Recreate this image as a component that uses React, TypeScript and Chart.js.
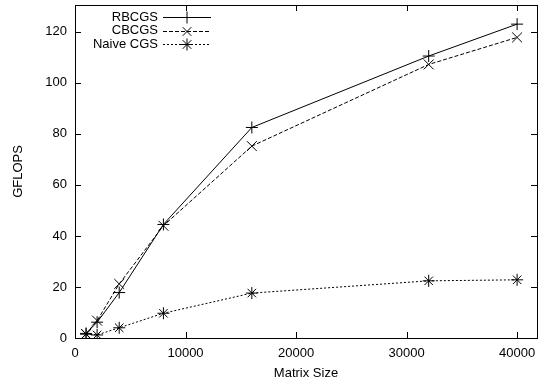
import React, { useEffect, useRef } from "react";
import { Chart, registerables } from "chart.js";

Chart.register(...registerables);

// Matrix sizes measured and the GFLOPS reached by each variant
const matrixSizes = [1000, 2000, 4000, 8000, 16000, 32000, 40000];
const rbcgs = [1.8, 6.2, 17.8, 44.5, 82.5, 110.5, 123.0];
const cbcgs = [1.6, 6.8, 21.2, 44.0, 75.2, 107.2, 117.8];
const naiveCgs = [1.5, 1.2, 4.0, 9.7, 17.6, 22.4, 22.8];

const seriesNames = ["RBCGS", "CBCGS", "Naive CGS"];
const xTicks = [0, 10000, 20000, 30000, 40000];
const yTicks = [0, 20, 40, 60, 80, 100, 120];

const FONT = "'Liberation Sans', Arial, Helvetica, sans-serif";

const toPoints = (ys: number[]) => matrixSizes.map((x, i) => ({ x, y: ys[i] }));

const noPadding = () => ({ left: 0, top: 0, right: 0, bottom: 0 });

// Draws a gnuplot-like marker: cross (+), crossRot (x) or star (*)
function drawMarker(ctx: CanvasRenderingContext2D, kind: string, x: number, y: number, r: number) {
  ctx.beginPath();
  if (kind === "cross" || kind === "star") {
    ctx.moveTo(x - r, y);
    ctx.lineTo(x + r, y);
    ctx.moveTo(x, y - r);
    ctx.lineTo(x, y + r);
  }
  if (kind === "crossRot" || kind === "star") {
    const d = r * 0.72;
    ctx.moveTo(x - d, y - d);
    ctx.lineTo(x + d, y + d);
    ctx.moveTo(x - d, y + d);
    ctx.lineTo(x + d, y - d);
  }
  ctx.stroke();
}

const frameAndKey = {
  id: "frameAndKey",
  afterDraw(chart: any) {
    const { ctx, chartArea: a, scales } = chart;
    ctx.save();
    ctx.strokeStyle = "#000";
    ctx.lineWidth = 1;
    ctx.setLineDash([]);
    // border
    ctx.strokeRect(Math.round(a.left) + 0.5, Math.round(a.top) + 0.5, Math.round(a.right - a.left), Math.round(a.bottom - a.top));
    const t = 6;
    ctx.beginPath();
    xTicks.forEach((v) => {
      const px = Math.round(scales.x.getPixelForValue(v)) + 0.5;
      ctx.moveTo(px, a.bottom);
      ctx.lineTo(px, a.bottom - t);
      ctx.moveTo(px, a.top);
      ctx.lineTo(px, a.top + t);
    });
    yTicks.forEach((v) => {
      const py = Math.round(scales.y.getPixelForValue(v)) + 0.5;
      ctx.moveTo(a.left, py);
      ctx.lineTo(a.left + t, py);
      ctx.moveTo(a.right, py);
      ctx.lineTo(a.right - t, py);
    });
    ctx.stroke();

    // key in the upper-left corner
    const styles = chart.data.datasets;
    ctx.font = `13px ${FONT}`;
    ctx.fillStyle = "#000";
    ctx.textAlign = "right";
    ctx.textBaseline = "middle";
    const rowY = [17, 30.5, 44];
    const textRight = 158;
    const x1 = 163;
    const x2 = 211;
    styles.forEach((ds: any, i: number) => {
      const y = rowY[i];
      ctx.fillText(seriesNames[i], textRight, y);
      ctx.setLineDash(ds.borderDash || []);
      ctx.beginPath();
      ctx.moveTo(x1, Math.round(y) + 0.5);
      ctx.lineTo(x2, Math.round(y) + 0.5);
      ctx.stroke();
      ctx.setLineDash([]);
      drawMarker(ctx, ds.pointStyle, (x1 + x2) / 2, Math.round(y) + 0.5, 6);
    });
    ctx.restore();
  },
};

export default function App() {
  const ref = useRef<HTMLCanvasElement>(null);

  useEffect(() => {
    if (!ref.current) return;
    const common = {
      borderColor: "#000",
      backgroundColor: "#000",
      borderWidth: 1,
      pointBorderWidth: 1,
      pointRadius: 6,
      pointBorderColor: "#000",
      fill: false,
      tension: 0,
    };
    const chart = new Chart(ref.current, {
      type: "line",
      data: {
        datasets: [
          { ...common, label: seriesNames[0], data: toPoints(rbcgs), pointStyle: "cross" },
          { ...common, label: seriesNames[1], data: toPoints(cbcgs), pointStyle: "crossRot", borderDash: [4, 2], pointRadius: 7 },
          { ...common, label: seriesNames[2], data: toPoints(naiveCgs), pointStyle: "star", borderDash: [2, 2] },
        ],
      },
      options: {
        responsive: false,
        animation: false,
        layout: { autoPadding: false, padding: { left: 0, top: 5, right: 1, bottom: 0 } },
        plugins: { legend: { display: false }, tooltip: { enabled: false } },
        scales: {
          x: {
            type: "linear",
            min: 0,
            max: 41800,
            grid: { display: false, drawTicks: false },
            border: { display: false },
            ticks: {
              padding: 8,
              color: "#000",
              font: { family: FONT, size: 13 },
              maxRotation: 0,
              autoSkip: false,
              callback: (v: any) => String(v),
            },
            afterBuildTicks: (s: any) => { s.ticks = xTicks.map((value) => ({ value })); },
            title: { display: true, text: "Matrix Size", color: "#000", font: { family: FONT, size: 13 }, padding: { top: 4, bottom: 3 } },
            afterFit: (s: any) => {
              s.height = 46;
              s.paddingLeft = 0;
              s.paddingRight = 0;
              s.getPadding = noPadding;
            },
          },
          y: {
            type: "linear",
            min: 0,
            max: 130.5,
            grid: { display: false, drawTicks: false },
            border: { display: false },
            ticks: {
              padding: 8,
              color: "#000",
              font: { family: FONT, size: 13 },
              callback: (v: any) => String(v),
            },
            afterBuildTicks: (s: any) => { s.ticks = yTicks.map((value) => ({ value })); },
            title: { display: true, text: "GFLOPS", color: "#000", font: { family: FONT, size: 13 }, padding: { top: 11, bottom: 4 } },
            afterFit: (s: any) => {
              s.width = 75;
              s.paddingTop = 0;
              s.paddingBottom = 0;
              s.getPadding = noPadding;
            },
          },
        },
      },
      plugins: [frameAndKey],
    } as any);
    return () => chart.destroy();
  }, []);

  return (
    <div style={{ position: "fixed", left: 0, top: 0, width: 538, height: 384, background: "#fff" }}>
      <canvas ref={ref} width={538} height={384} style={{ display: "block" }} />
    </div>
  );
}
